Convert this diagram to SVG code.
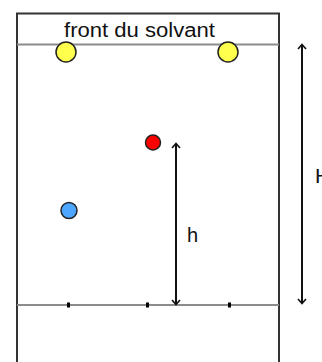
<svg xmlns="http://www.w3.org/2000/svg" width="322" height="362" viewBox="0 0 322 362">
<style>
.frame{fill:none;stroke:#333;stroke-width:2}
.grey{stroke:#8c8c8c;stroke-width:2}
.arrow{stroke:#111;stroke-width:2;fill:none}
.head{stroke:#111;stroke-width:1.6;fill:none}
.tick{fill:#000}
text{font-family:"Liberation Sans",Arial,sans-serif;fill:#111}
.spot{stroke:#222;stroke-width:1.5}
</style>
<rect width="322" height="362" fill="#fff"/>
<g id="plate">
<path class="frame" d="M17,363 V13.5 H279 V363"/>
<line class="grey" x1="17" y1="44.5" x2="279" y2="44.5"/>
<line class="grey" x1="17" y1="305" x2="279" y2="305"/>
<rect class="tick" x="67" y="302.5" width="3" height="5"/>
<rect class="tick" x="146" y="302.5" width="3" height="5"/>
<rect class="tick" x="228" y="302.5" width="3" height="5"/>
</g>
<g id="label-front"><text x="64" y="37" font-size="20" textLength="151" lengthAdjust="spacingAndGlyphs">front du solvant</text></g>
<g id="spot-yellow-left"><circle class="spot" cx="66" cy="52" r="10" fill="#ffff4d"/></g>
<g id="spot-yellow-right"><circle class="spot" cx="228" cy="52" r="10" fill="#ffff4d"/></g>
<g id="spot-red"><circle class="spot" cx="153" cy="142.5" r="7.5" fill="#f00"/></g>
<g id="spot-blue"><circle class="spot" cx="69" cy="210.5" r="8" fill="#4da6ff"/></g>
<g id="connectors">
<line class="arrow" x1="176" y1="144" x2="176" y2="304"/>
<path class="head" d="M172,148 L176,143.5 L180,148"/>
<path class="head" d="M172,300 L176,304.5 L180,300"/>
<line class="arrow" x1="302" y1="45" x2="302" y2="303"/>
<path class="head" d="M298,49 L302,44.5 L306,49"/>
<path class="head" d="M298,299 L302,303.5 L306,299"/>
</g>
<g id="label-h"><text x="187" y="242" font-size="20">h</text></g>
<g id="label-H"><text x="315" y="183" font-size="21">H</text></g>
</svg>
